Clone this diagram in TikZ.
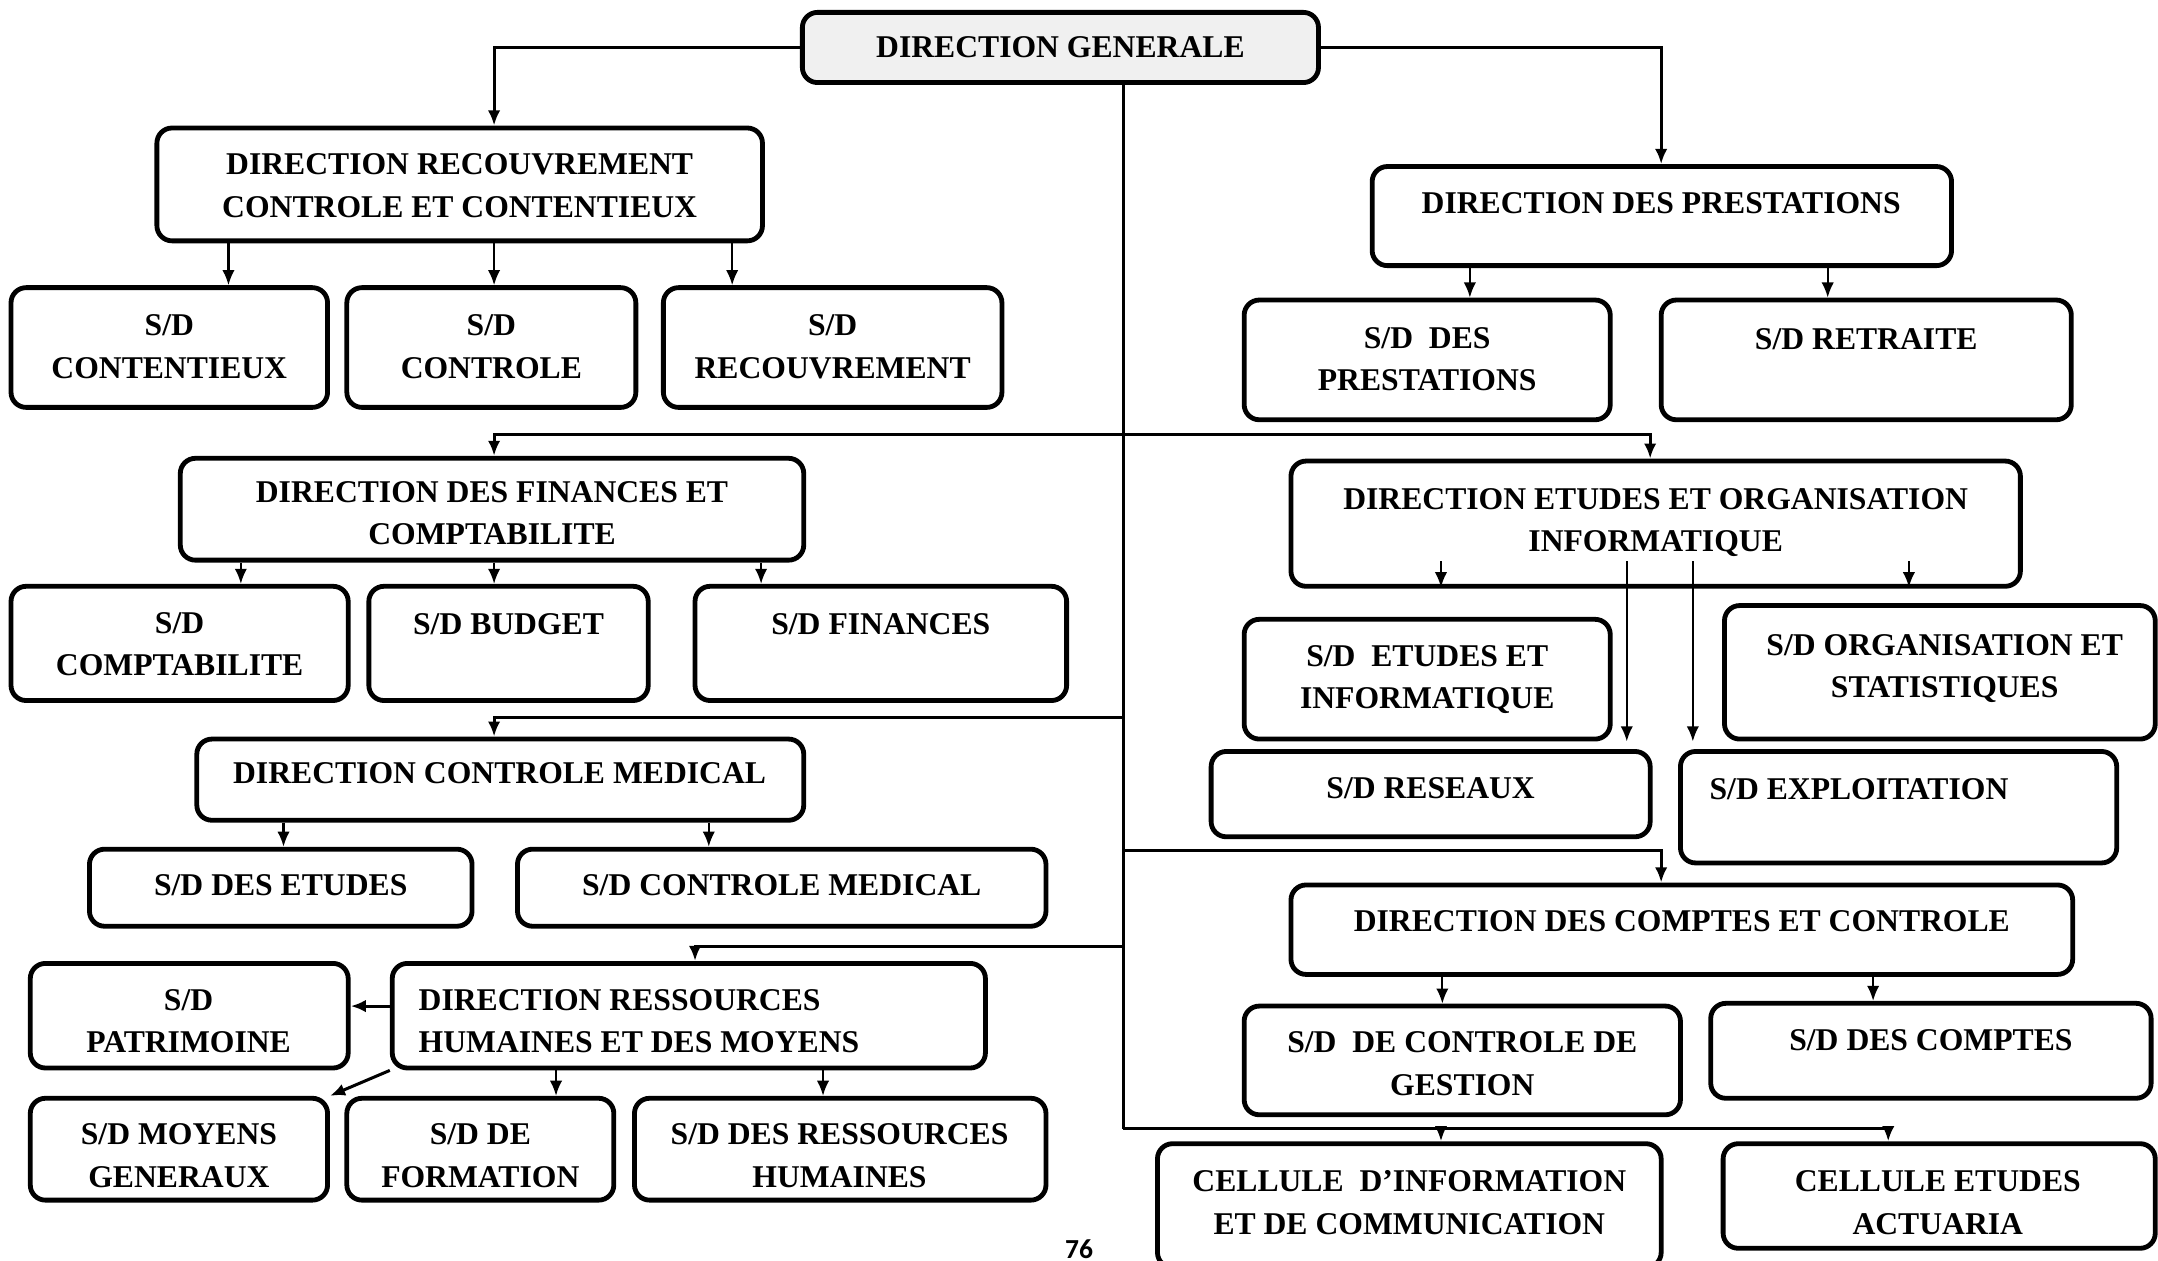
\documentclass[tikz,border=0pt]{standalone}
\usepackage{fontspec}
\setmainfont{Liberation Serif}
\newfontfamily\pgfont{Carlito}
\usetikzlibrary{arrows.meta}
\begin{document}
\begin{tikzpicture}[x=1pt,y=-1pt,
 box/.style={draw, line width=3.5pt, rounded corners=11pt, fill=white, inner sep=0pt},
 topbox/.style={box, fill=black!6},
 lbl/.style={inner sep=0pt, align=center, font=\fontsize{23}{31}\selectfont\bfseries, anchor=north},
 conn/.style={line width=1.6pt, -{Latex[length=11pt,width=9pt]}},
 mainconn/.style={conn, line width=2.2pt},
 plainline/.style={line width=2.2pt}]
\useasboundingbox (0,0) rectangle (1568,916);
% ---------- boxes ----------
\node[topbox, minimum width=375pt, minimum height=51pt] (DG) at (770.5,34.5) {};
\node[box, minimum width=440pt, minimum height=82pt] (DRCC) at (334,134) {};
\node[box, minimum width=230pt, minimum height=87pt] (SDCont) at (123,252.5) {};
\node[box, minimum width=210pt, minimum height=87pt] (SDCtrl) at (357,252.5) {};
\node[box, minimum width=246pt, minimum height=87pt] (SDRec) at (605,252.5) {};
\node[box, minimum width=421pt, minimum height=72pt] (DP) at (1207.5,157) {};
\node[box, minimum width=266pt, minimum height=87pt] (SDDP) at (1037,261.5) {};
\node[box, minimum width=298pt, minimum height=87pt] (SDRet) at (1356,261.5) {};
\node[box, minimum width=453pt, minimum height=74pt] (DFC) at (357.5,370) {};
\node[box, minimum width=245pt, minimum height=83pt] (SDComp) at (130.5,467.5) {};
\node[box, minimum width=203pt, minimum height=83pt] (SDBud) at (369.5,467.5) {};
\node[box, minimum width=270pt, minimum height=83pt] (SDFin) at (640,467.5) {};
\node[box, minimum width=530pt, minimum height=91pt] (DEOI) at (1203,380.5) {};
\node[box, minimum width=266pt, minimum height=87pt] (SDEI) at (1037,493.5) {};
\node[box, minimum width=313pt, minimum height=97pt] (SDOS) at (1409.5,488.5) {};
\node[box, minimum width=319pt, minimum height=62pt] (SDRes) at (1039.5,577) {};
\node[box, minimum width=317pt, minimum height=81pt] (SDExp) at (1379.5,586.5) {};
\node[box, minimum width=441pt, minimum height=59pt] (DCM) at (363.5,566.5) {};
\node[box, minimum width=278pt, minimum height=56pt] (SDDE) at (204,645) {};
\node[box, minimum width=384pt, minimum height=56pt] (SDCM) at (568,645) {};
\node[box, minimum width=568pt, minimum height=65pt] (DCC) at (1222,675.5) {};
\node[box, minimum width=317pt, minimum height=79pt] (SDCG) at (1062.5,770.5) {};
\node[box, minimum width=320pt, minimum height=69pt] (SDDC) at (1403,763.5) {};
\node[box, minimum width=366pt, minimum height=90pt] (CIC) at (1024,876) {};
\node[box, minimum width=314pt, minimum height=76pt] (CEA) at (1409,869) {};
\node[box, minimum width=431pt, minimum height=76pt] (DRH) at (500.5,738) {};
\node[box, minimum width=231pt, minimum height=76pt] (SDPat) at (137.5,738) {};
\node[box, minimum width=216pt, minimum height=74pt] (SDMG) at (130,835) {};
\node[box, minimum width=194pt, minimum height=74pt] (SDForm) at (349,835) {};
\node[box, minimum width=299pt, minimum height=74pt] (SDRH) at (610.5,835) {};
% ---------- labels ----------
\node[lbl] (DGt) at (770.5,26.4) {DIRECTION GENERALE};
\node[lbl] (DRCCt) at (334,111.5) {DIRECTION RECOUVREMENT\\CONTROLE ET CONTENTIEUX};
\node[lbl] (SDContt) at (123,228.5) {S/D\\CONTENTIEUX};
\node[lbl] (SDCtrlt) at (357,228.5) {S/D\\CONTROLE};
\node[lbl] (SDRect) at (605,228.5) {S/D\\RECOUVREMENT};
\node[lbl] (DPt) at (1207,139.5) {DIRECTION DES PRESTATIONS};
\node[lbl] (SDDPt) at (1037,237.5) {S/D~ DES\\PRESTATIONS};
\node[lbl] (SDRett) at (1356,238.5) {S/D RETRAITE};
\node[lbl] (DFCt) at (357.5,349.5) {DIRECTION DES FINANCES ET\\COMPTABILITE};
\node[lbl] (SDCompt) at (130.5,444.5) {S/D\\COMPTABILITE};
\node[lbl] (SDBudt) at (369.5,445.5) {S/D BUDGET};
\node[lbl] (SDFint) at (640,445.5) {S/D FINANCES};
\node[lbl] (DEOIt) at (1203,354.5) {DIRECTION ETUDES ET ORGANISATION\\INFORMATIQUE};
\node[lbl] (SDEIt) at (1037,468.5) {S/D~ ETUDES ET\\INFORMATIQUE};
\node[lbl] (SDOSt) at (1413,460.5) {S/D ORGANISATION ET\\STATISTIQUES};
\node[lbl] (SDRest) at (1039.5,564.5) {S/D RESEAUX};
\node[lbl, anchor=north west] (SDExpt) at (1242,565.5) {S/D EXPLOITATION};
\node[lbl] (DCMt) at (363,553.5) {DIRECTION CONTROLE MEDICAL};
\node[lbl] (SDDEt) at (204,635.5) {S/D DES ETUDES};
\node[lbl] (SDCMt) at (568,635.5) {S/D CONTROLE MEDICAL};
\node[lbl] (DCCt) at (1222,661.5) {DIRECTION DES COMPTES ET CONTROLE};
\node[lbl] (SDCGt) at (1062.5,749.5) {S/D~ DE CONTROLE DE\\GESTION};
\node[lbl] (SDDCt) at (1403,747.5) {S/D DES COMPTES};
\node[lbl] (CICt) at (1024,850.5) {CELLULE~ D’INFORMATION\\ET DE COMMUNICATION};
\node[lbl] (CEAt) at (1408,850.5) {CELLULE ETUDES\\ACTUARIA};
\node[lbl, anchor=north west, align=left] (DRHt) at (304,718.5) {DIRECTION RESSOURCES\\HUMAINES ET DES MOYENS};
\node[lbl] (SDPatt) at (137,718.5) {S/D\\PATRIMOINE};
\node[lbl] (SDMGt) at (130,816.5) {S/D MOYENS\\GENERAUX};
\node[lbl] (SDFormt) at (349,816.5) {S/D DE\\FORMATION};
\node[lbl] (SDRHt) at (610,816.5) {S/D DES RESSOURCES\\HUMAINES};
\node[inner sep=0pt, anchor=south, font=\pgfont\bfseries\fontsize{20}{24}\selectfont] (pg) at (784,914.5) {76};
% ---------- trunk and junctions ----------
\coordinate (tk) at (816,0);
\coordinate (j1) at (816,316);
\coordinate (j2) at (816,521);
\coordinate (j3) at (816,618);
\coordinate (j4) at (816,688);
\coordinate (jE) at (816,820);
\draw[mainconn] (DG.west) -| ([xshift=25pt]DRCC.north);
\draw[mainconn] (DG.east) -| ([xshift=-0.5pt]DP.north);
\draw[plainline] (DG.south -| tk) -- (jE);
\draw[mainconn] (j1) -| ([xshift=1.5pt]DFC.north);
\draw[mainconn] (j1) -| ([xshift=-4pt]DEOI.north);
\draw[mainconn] (j2) -| ([xshift=-4.5pt]DCM.north);
\draw[mainconn] (j3) -| ([xshift=-15pt]DCC.north);
\draw[mainconn] (j4) -| ([xshift=4.5pt]DRH.north);
\draw[mainconn] (jE) -| ([xshift=23pt]CIC.north);
\draw[mainconn] (jE) -| ([xshift=-37pt]CEA.north);
% ---------- sub-directions ----------
\draw[conn] ([xshift=-168pt]DRCC.south) -- ([xshift=-168pt]DRCC.south |- SDCont.north);
\draw[conn] ([xshift=25pt]DRCC.south) -- ([xshift=25pt]DRCC.south |- SDCtrl.north);
\draw[conn] ([xshift=198pt]DRCC.south) -- ([xshift=198pt]DRCC.south |- SDRec.north);
\draw[conn] ([xshift=-139.5pt]DP.south) -- ([xshift=-139.5pt]DP.south |- SDDP.north);
\draw[conn] ([xshift=120.5pt]DP.south) -- ([xshift=120.5pt]DP.south |- SDRet.north);
\draw[conn] ([xshift=-182.5pt]DFC.south) -- ([xshift=-182.5pt]DFC.south |- SDComp.north);
\draw[conn] ([xshift=1.5pt]DFC.south) -- ([xshift=1.5pt]DFC.south |- SDBud.north);
\draw[conn] ([xshift=195.5pt]DFC.south) -- ([xshift=195.5pt]DFC.south |- SDFin.north);
\draw[conn] ([xshift=-156pt,yshift=20pt]DEOI.south) -- ([xshift=-156pt,yshift=1pt]DEOI.south);
\draw[conn] ([xshift=184pt,yshift=20pt]DEOI.south) -- ([xshift=184pt,yshift=1pt]DEOI.south);
\draw[conn] ([xshift=-21pt,yshift=20pt]DEOI.south) -- ([xshift=-21pt]DEOI.south |- SDEI.south);
\draw[conn] ([xshift=27pt,yshift=20pt]DEOI.south) -- ([xshift=27pt]DEOI.south |- SDEI.south);
\draw[conn] ([xshift=-157.5pt]DCM.south) -- ([xshift=-157.5pt]DCM.south |- SDDE.north);
\draw[conn] ([xshift=151.5pt]DCM.south) -- ([xshift=151.5pt]DCM.south |- SDCM.north);
\draw[conn] ([xshift=-174pt]DCC.south) -- ([xshift=-174pt]DCC.south |- SDCG.north);
\draw[conn] ([xshift=139pt]DCC.south) -- ([xshift=139pt]DCC.south |- SDDC.north);
\draw[mainconn] ([yshift=7pt]DRH.west) -- ([yshift=7pt]SDPat.east);
\draw[mainconn] (DRH.south west) -- (SDMG.north east);
\draw[conn] ([xshift=-96.5pt]DRH.south) -- ([xshift=-96.5pt]DRH.south |- SDForm.north);
\draw[conn] ([xshift=97.5pt]DRH.south) -- ([xshift=97.5pt]DRH.south |- SDRH.north);
\end{tikzpicture}
\end{document}
